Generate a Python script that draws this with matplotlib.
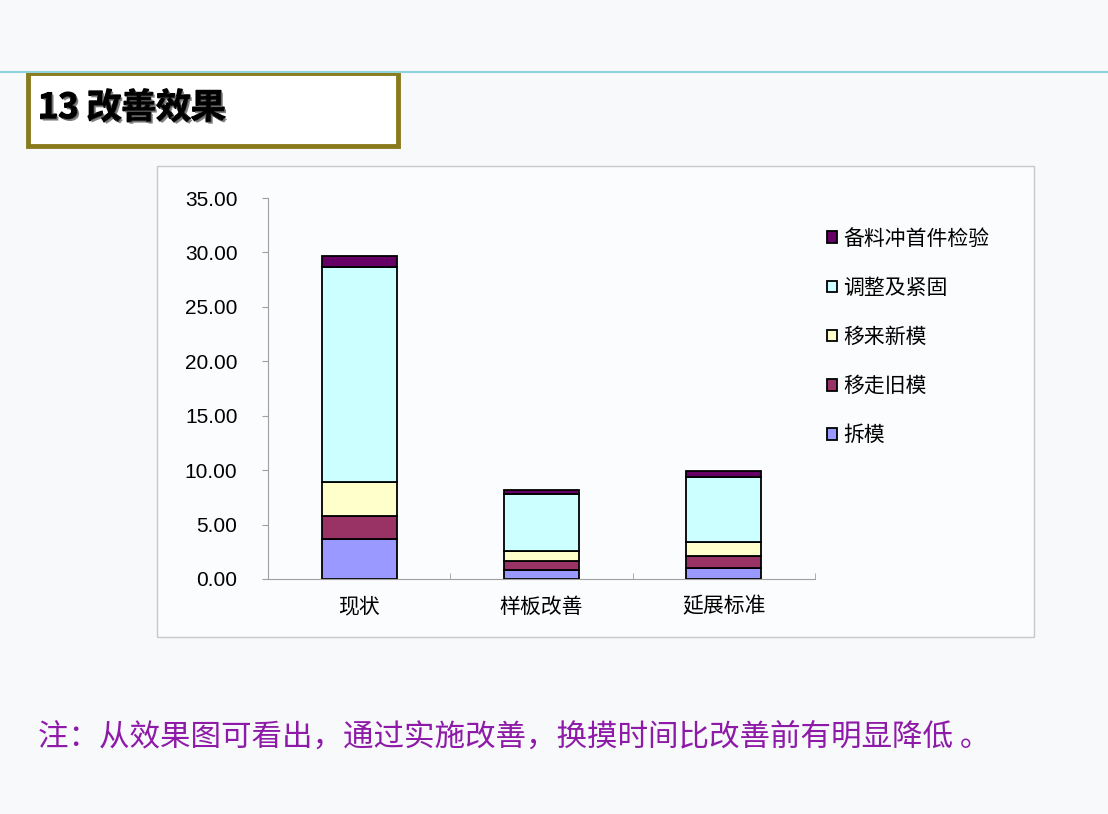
import numpy as np
import matplotlib.pyplot as plt
from matplotlib.patches import Rectangle
import matplotlib.patheffects as pe

plt.rcParams['font.family'] = ['Noto Sans CJK SC', 'DejaVu Sans']

# datos
categorias = ['现状', '样板改善', '延展标准']
series = ['拆模', '移走旧模', '移来新模', '调整及紧固', '备料冲首件检验']
chaimo = [3.67, 0.80, 1.00]
yizou = [2.09, 0.85, 1.07]
yilai = [3.12, 0.95, 1.32]
tiaozheng = [19.80, 5.25, 5.97]
beiliao = [0.98, 0.28, 0.52]
colores = ['#9999FF', '#993366', '#FFFFCC', '#CCFFFF', '#660066']
valores = [chaimo, yizou, yilai, tiaozheng, beiliao]

W, H = 1108, 814
fig = plt.figure(figsize=(W / 100, H / 100), dpi=100)
fig.patch.set_facecolor('#f8f9fb')

# línea superior
fig.add_artist(plt.Line2D([0, 1], [1 - 72 / H, 1 - 72 / H], color='#8fd3dc', lw=1.5))

# caja del título
fig.add_artist(Rectangle((28 / W, 1 - 146 / H), 370 / W, 73 / H, facecolor='white',
                         edgecolor='#8a7a1e', lw=3.5))
fig.text(38 / W, 1 - 108 / H, '13 改善效果', fontsize=25, fontweight='black', va='center',
         color='black', path_effects=[pe.Stroke(linewidth=1.2, foreground='black'),
                                      pe.withSimplePatchShadow(offset=(1.5, -1.5), shadow_rgbFace='#666666', alpha=0.8)])

# marco del gráfico
marco = Rectangle((157 / W, 1 - 637 / H), 877 / W, 471 / H, facecolor='#fbfcfd',
                  edgecolor='#c8c8c8', lw=1, zorder=-1)
fig.add_artist(marco)

ax = fig.add_axes([268 / W, 1 - 579 / H, 547 / W, 381 / H])
ax.set_zorder(2)
ax.set_facecolor('none')
x = np.arange(len(categorias))
base = np.zeros(len(categorias))
handles = []
for nombre, vals, c in zip(series, valores, colores):
    b = ax.bar(x, vals, 0.41, bottom=base, color=c, edgecolor='black', linewidth=1.3, label=nombre)
    handles.append(b)
    base = base + np.array(vals)

ax.set_xlim(-0.5, 2.5)
ax.set_ylim(0, 35)
ax.set_yticks(np.arange(0, 36, 5))
ax.set_yticklabels(['{:.2f}'.format(v) for v in np.arange(0, 36, 5)],
                   family=['Liberation Sans', 'DejaVu Sans'])
ax.set_xticks(x)
ax.set_xticklabels(categorias)
ax.set_xticks([0.5, 1.5, 2.5], minor=True)
ax.tick_params(axis='x', which='major', length=0, pad=12, labelsize=15)
ax.tick_params(axis='x', which='minor', length=4, color='#a0a0a0', direction='in')
ax.tick_params(axis='y', length=4, color='#a0a0a0', pad=18, labelsize=15)
for s in ['top', 'right']:
    ax.spines[s].set_visible(False)
for s in ['left', 'bottom']:
    ax.spines[s].set_color('#a0a0a0')

leg = fig.legend(handles[::-1], series[::-1], loc='upper left', bbox_to_anchor=(808 / W, 1 - 209 / H),
                 frameon=False, fontsize=15, handlelength=0.5, handleheight=0.5,
                 handletextpad=0.3, labelspacing=1.3)

fig.text(38 / W, 1 - 738 / H, '注：从效果图可看出，通过实施改善，换摸时间比改善前有明显降低 。',
         fontsize=22, color='#8e1aa8', va='center')

plt.savefig('out.png', dpi=100, facecolor=fig.get_facecolor())
